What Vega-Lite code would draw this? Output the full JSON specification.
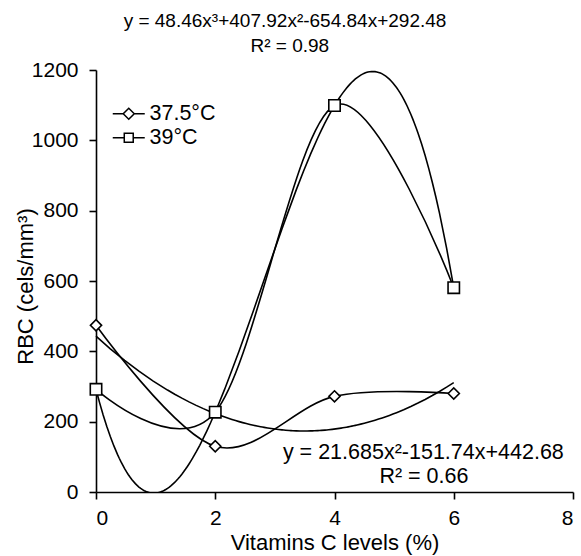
{
  "$schema": "https://vega.github.io/schema/vega-lite/v6.json",
  "autosize": "none",
  "width": 477,
  "height": 422,
  "padding": {"left": 96, "top": 70, "right": 8, "bottom": 64},
  "background": "white",
  "config": {
    "view": {"stroke": null},
    "font": "Liberation Sans",
    "axis": {
      "grid": false,
      "domainColor": "black",
      "domainWidth": 1.6,
      "tickColor": "black",
      "tickWidth": 1.6,
      "tickSize": 7,
      "labelFont": "Liberation Sans",
      "labelFontSize": 21,
      "labelColor": "black",
      "titleFont": "Liberation Sans",
      "titleFontSize": 22,
      "titleFontWeight": "normal",
      "titleColor": "black"
    }
  },
  "datasets": {
    "rbc": [
      {"series": "37.5°C", "level": 0, "RBC": 474},
      {"series": "37.5°C", "level": 2, "RBC": 130},
      {"series": "37.5°C", "level": 4, "RBC": 272},
      {"series": "37.5°C", "level": 6, "RBC": 280},
      {"series": "39°C", "level": 0, "RBC": 292},
      {"series": "39°C", "level": 2, "RBC": 227},
      {"series": "39°C", "level": 4, "RBC": 1099},
      {"series": "39°C", "level": 6, "RBC": 581}
    ],
    "topNotes": [
      {"label": "y = 48.46x³+407.92x²-654.84x+292.48", "level": 3.17, "RBC": 1322},
      {"label": "R² = 0.98", "level": 3.25, "RBC": 1250}
    ],
    "bottomNotes": [
      {"label": "y = 21.685x²-151.74x+442.68", "level": 5.49, "RBC": 94},
      {"label": "R² = 0.66", "level": 5.5, "RBC": 26}
    ]
  },
  "layer": [
    {
      "data": {"name": "rbc"},
      "transform": [
        {"filter": "datum.series === '39°C'"},
        {"regression": "RBC", "on": "level", "method": "poly", "order": 3, "groupby": ["series"]}
      ],
      "mark": {"type": "line", "color": "black", "strokeWidth": 1.6, "clip": true},
      "encoding": {
        "x": {"field": "level", "type": "quantitative"},
        "y": {"field": "RBC", "type": "quantitative"}
      }
    },
    {
      "data": {"name": "rbc"},
      "transform": [
        {"filter": "datum.series === '37.5°C'"},
        {"regression": "RBC", "on": "level", "method": "poly", "order": 2, "groupby": ["series"]}
      ],
      "mark": {"type": "line", "color": "black", "strokeWidth": 1.6},
      "encoding": {
        "x": {"field": "level", "type": "quantitative"},
        "y": {"field": "RBC", "type": "quantitative"}
      }
    },
    {
      "data": {"name": "rbc"},
      "mark": {"type": "line", "color": "black", "strokeWidth": 1.6, "interpolate": "cardinal"},
      "encoding": {
        "x": {"field": "level", "type": "quantitative"},
        "y": {"field": "RBC", "type": "quantitative"},
        "detail": {"field": "series"}
      }
    },
    {
      "data": {"name": "rbc"},
      "mark": {"type": "point", "filled": false, "fill": "white", "fillOpacity": 1, "color": "black", "stroke": "black", "strokeWidth": 1.6, "opacity": 0, "size": 125},
      "encoding": {
        "x": {"field": "level", "type": "quantitative"},
        "y": {"field": "RBC", "type": "quantitative"},
        "shape": {
          "field": "series", "type": "nominal",
          "scale": {"domain": ["37.5°C", "39°C"], "range": ["M-2,0H-0.69M0,-0.69L0.69,0L0,0.69L-0.69,0ZM0.69,0H2", "M-2,0H-0.56M-0.56,-0.56H0.56V0.56H-0.56ZM0.56,0H2"]},
          "legend": {
            "title": null,
            "orient": "none",
            "legendX": 22,
            "legendY": 33,
            "padding": 0,
            "symbolSize": 256,
            "labelFont": "Liberation Sans",
            "labelFontSize": 21.5,
            "labelColor": "black",
            "labelOffset": 10,
            "rowPadding": 1,
            "encode": {
              "symbols": {
                "opacity": {"value": 1}
              }
            }
          }
        }
      }
    },
    {
      "data": {"name": "rbc"},
      "transform": [{"filter": "datum.series === '37.5°C'"}],
      "mark": {"type": "point", "shape": "diamond", "filled": false, "fill": "white", "fillOpacity": 1, "color": "black", "stroke": "black", "strokeWidth": 1.6, "opacity": 1, "size": 125},
      "encoding": {
        "x": {
          "field": "level", "type": "quantitative",
          "scale": {"domain": [0, 8], "nice": false, "zero": false},
          "axis": {"values": [0, 2, 4, 6, 8], "format": "d", "labelPadding": 8, "title": "Vitamins C levels (%)", "titlePadding": 4}
        },
        "y": {
          "field": "RBC", "type": "quantitative",
          "scale": {"domain": [0, 1200], "nice": false},
          "axis": {"values": [0, 200, 400, 600, 800, 1000, 1200], "format": "d", "labelPadding": 11, "title": "RBC (cels/mm³)", "titleAngle": -90, "titleBaseline": "alphabetic", "titleX": -64, "titleY": 216, "titleAlign": "center"}
        }
      }
    },
    {
      "data": {"name": "rbc"},
      "transform": [{"filter": "datum.series === '39°C'"}],
      "mark": {"type": "point", "shape": "square", "filled": false, "fill": "white", "fillOpacity": 1, "color": "black", "stroke": "black", "strokeWidth": 1.6, "opacity": 1, "size": 130},
      "encoding": {
        "x": {"field": "level", "type": "quantitative"},
        "y": {"field": "RBC", "type": "quantitative"}
      }
    },
    {
      "data": {"name": "topNotes"},
      "mark": {"type": "text", "font": "Liberation Sans", "fontSize": 19, "color": "black", "align": "center", "baseline": "alphabetic"},
      "encoding": {
        "x": {"field": "level", "type": "quantitative"},
        "y": {"field": "RBC", "type": "quantitative"},
        "text": {"field": "label"}
      }
    },
    {
      "data": {"name": "bottomNotes"},
      "mark": {"type": "text", "font": "Liberation Sans", "fontSize": 21.5, "color": "black", "align": "center", "baseline": "alphabetic"},
      "encoding": {
        "x": {"field": "level", "type": "quantitative"},
        "y": {"field": "RBC", "type": "quantitative"},
        "text": {"field": "label"}
      }
    }
  ]
}
